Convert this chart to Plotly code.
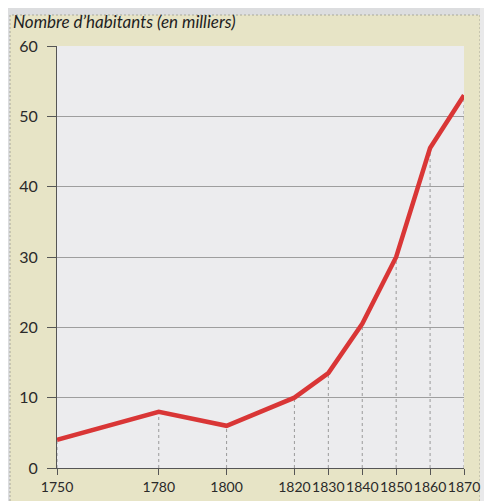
import plotly.graph_objects as go

years = [1750, 1780, 1800, 1820, 1830, 1840, 1850, 1860, 1870]
habitants = [4, 8, 6, 10, 13.5, 20.5, 30, 45.5, 53]
x_ticks = [1750, 1780, 1800, 1820, 1830, 1840, 1850, 1860, 1870]
y_ticks = [0, 10, 20, 30, 40, 50, 60]
title_text = "Nombre d’habitants (en milliers)"

fig = go.Figure()

# dashed drop lines from each point to the x axis
for yr, val in zip(years, habitants):
    fig.add_trace(go.Scatter(
        x=[yr, yr], y=[0, val], mode="lines",
        line=dict(color="#9a9a9a", width=1, dash="3px,3px"),
        hoverinfo="skip", showlegend=False,
    ))

fig.add_trace(go.Scatter(
    x=years, y=habitants, mode="lines",
    line=dict(color="#d93636", width=4.5),
    showlegend=False,
))

# the page adds an 8px body margin, so the figure is sized to fit inside it
W, H = 484, 493
L, R, T, B = 49, 28, 38, 33
pw, ph = W - L - R, H - T - B

def px(xp):
    return (xp - L) / pw

def py(yp):
    return (H - B - yp) / ph

fig.update_layout(
    width=W, height=H,
    margin=dict(l=L, r=R, t=T, b=B, autoexpand=False),
    paper_bgcolor="#e7e4c6",
    plot_bgcolor="#ececee",
    font=dict(family="Lato, Open Sans, sans-serif", size=15, color="#2a2a2a"),
    shapes=[
        # grey page margin on the left and top
        dict(type="rect", xref="paper", yref="paper", layer="below",
             x0=px(-5), x1=px(2), y0=py(H + 10), y1=py(-10),
             fillcolor="#dcdddf", line=dict(width=0)),
        dict(type="rect", xref="paper", yref="paper", layer="below",
             x0=px(-5), x1=px(W + 5), y0=py(7), y1=py(-10),
             fillcolor="#dcdddf", line=dict(width=0)),
        # dashed frame border
        dict(type="rect", xref="paper", yref="paper", layer="below",
             x0=px(2), x1=px(472), y0=py(H + 10), y1=py(7),
             line=dict(color="#a9a89a", width=1, dash="2px,2px")),
        # page edge and shadow on the right
        dict(type="rect", xref="paper", yref="paper", layer="below",
             x0=px(472), x1=px(479), y0=py(H + 10), y1=py(-10),
             fillcolor="#e9e9ea", line=dict(width=0)),
        dict(type="rect", xref="paper", yref="paper", layer="below",
             x0=px(479), x1=px(W + 5), y0=py(H + 10), y1=py(-10),
             fillcolor="#8a8a8c", line=dict(width=0)),
    ],
    annotations=[
        dict(text=title_text, xref="paper", yref="paper",
             x=px(3), y=py(1), xanchor="left", yanchor="top",
             showarrow=False,
             font=dict(family="Lato, Open Sans, sans-serif", size=17, color="#1e1e1e",
                       style="italic")),
    ],
)

fig.update_xaxes(
    range=[1750, 1870], tickvals=x_ticks, ticktext=[str(t) for t in x_ticks],
    tickangle=0, automargin=False,
    showgrid=False, zeroline=False,
    showline=True, linecolor="#555555", linewidth=1,
    ticks="outside", ticklen=6, tickcolor="#555555",
    tickfont=dict(size=14),
)
fig.update_yaxes(
    range=[0, 60], tickvals=y_ticks, automargin=False,
    showgrid=True, gridcolor="#9e9e9e", gridwidth=1,
    zeroline=False,
    showline=True, linecolor="#555555", linewidth=1,
    ticks="outside", ticklen=9, tickcolor="#555555",
    ticklabelstandoff=6,
    tickfont=dict(size=16),
)

fig.write_html("out.html")
